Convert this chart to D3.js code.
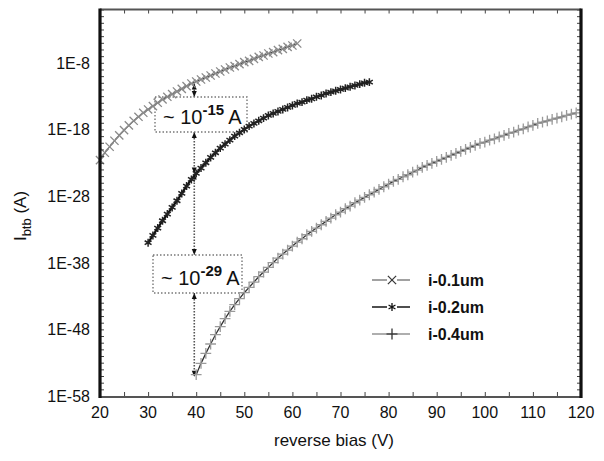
<!DOCTYPE html>
<html>
<head>
<meta charset="utf-8">
<script src="https://cdn.jsdelivr.net/npm/d3@7"></script>
<style>
  html, body { margin: 0; padding: 0; background: #fff; }
  svg { display: block; font-family: "Liberation Sans", Arial, sans-serif; }
</style>
</head>
<body>
<svg id="chart" width="604" height="461"></svg>
<script>
// Band-to-band tunnelling current vs reverse bias, three intrinsic-layer widths.
// Currents are stored as base-10 exponents (I = 10^e amperes).

const bias01 = d3.range(20, 62);   // 20..61 V
const exp01 = [-22.6, -21.5, -20.6, -19.7, -18.9, -18.1, -17.4, -16.7, -16.1, -15.5,
               -15.0, -14.5, -14.0, -13.5, -13.1, -12.7, -12.3, -11.9, -11.5, -11.1,
               -10.8, -10.5, -10.2, -9.9, -9.6, -9.3, -9.0, -8.7, -8.5, -8.2,
               -7.9, -7.7, -7.4, -7.1, -6.9, -6.6, -6.4, -6.1, -5.9, -5.6,
               -5.4, -5.1];

const bias02 = d3.range(30, 77);   // 30..76 V
const exp02 = [-35.0, -33.9, -32.8, -31.7, -30.7, -29.7, -28.7, -27.6, -26.5, -25.5,
               -24.6, -23.8, -23.0, -22.2, -21.5, -20.8, -20.2, -19.6, -19.0, -18.5,
               -18.0, -17.5, -17.1, -16.7, -16.3, -15.9, -15.6, -15.3, -15.0, -14.7,
               -14.4, -14.1, -13.9, -13.6, -13.4, -13.1, -12.9, -12.6, -12.4, -12.2,
               -12.0, -11.8, -11.6, -11.4, -11.2, -11.0, -10.9];

const bias04 = d3.range(40, 120);  // 40..119 V
const exp04 = [-54.8, -53.1, -51.6, -50.2, -48.8, -47.6, -46.4, -45.3, -44.3, -43.4,
               -42.5, -41.7, -40.9, -40.1, -39.4, -38.7, -38.0, -37.3, -36.7, -36.1,
               -35.5, -34.9, -34.4, -33.8, -33.3, -32.8, -32.3, -31.8, -31.3, -30.8,
               -30.4, -29.9, -29.5, -29.0, -28.6, -28.2, -27.8, -27.4, -27.0, -26.6,
               -26.2, -25.8, -25.5, -25.1, -24.8, -24.4, -24.1, -23.7, -23.4, -23.1,
               -22.8, -22.5, -22.2, -21.9, -21.6, -21.3, -21.0, -20.7, -20.4, -20.1,
               -19.9, -19.6, -19.4, -19.1, -18.9, -18.6, -18.4, -18.1, -17.9, -17.6,
               -17.4, -17.1, -16.9, -16.7, -16.5, -16.3, -16.1, -15.9, -15.7, -15.5];

const seriesNames = ["i-0.1um", "i-0.2um", "i-0.4um"];

const xTicks = [20, 30, 40, 50, 60, 70, 80, 90, 100, 110, 120];
const yTickExps = [-8, -18, -28, -38, -48, -58];
const yTickLabels = ["1E-8", "1E-18", "1E-28", "1E-38", "1E-48", "1E-58"];

// Annotated gaps at 40 V
const gapBias = 39.6;
const gapLabels = [{ base: "~ 10", sup: "-15", unit: "A" }, { base: "~ 10", sup: "-29", unit: "A" }];

const xTitle = "reverse bias (V)";

// ---- layout ----
const svg = d3.select("#chart");
const L = 100, R = 581, T = 9.5, B = 396;

const x = d3.scaleLinear().domain([20, 120]).range([L, R]);
const y = d3.scaleLog().domain([1e-58, 1]).range([B, T]);

const toPts = (bias, exps) => bias.map((v, i) => ({ v, i: Math.pow(10, exps[i]) }));
const series = [
  { name: seriesNames[0], pts: toPts(bias01, exp01), sym: d3.symbolTimes,    line: "#3a3a3a", mark: "#8a8a8a", lw: 1.1, ms: 46, mw: 1.3 },
  { name: seriesNames[1], pts: toPts(bias02, exp02), sym: d3.symbolAsterisk, line: "#111",    mark: "#222",    lw: 2.2, ms: 44, mw: 1.5 },
  { name: seriesNames[2], pts: toPts(bias04, exp04), sym: d3.symbolPlus,     line: "#333",    mark: "#9a9a9a", lw: 1.3, ms: 40, mw: 1.3 }
];

const line = d3.line().x(d => x(d.v)).y(d => y(d.i));

// ---- annotation: dotted guide at 40 V with boxed labels ----
const ann = svg.append("g");
const gx = x(gapBias);
const yAt = (bias, exps) => y(Math.pow(10, exps[bias.indexOf(40)]));
const y01 = yAt(bias01, exp01) + 2, y02 = yAt(bias02, exp02), y04 = yAt(bias04, exp04) + 2;
const boxes = [
  { x0: 155, x1: 247, y0: 97,  y1: 132 },
  { x0: 153, x1: 242, y0: 255, y1: 293 }
];
const guideSegs = [[y01, boxes[0].y0], [boxes[0].y1, y02], [y02, boxes[1].y0], [boxes[1].y1, y04]];
guideSegs.forEach(([a, b]) => {
  ann.append("line").attr("x1", gx).attr("x2", gx).attr("y1", a).attr("y2", b)
    .attr("stroke", "#555").attr("stroke-width", 1.6).attr("stroke-dasharray", "1.5,1.5");
});
// arrow heads at the ends of each guide
guideSegs.forEach(([a, b]) => {
  [[a, 1], [b, -1]].forEach(([yy, dir]) => {
    ann.append("path")
      .attr("d", `M${gx},${yy} L${gx - 2.5},${yy + dir * 6} L${gx + 2.5},${yy + dir * 6} Z`)
      .attr("fill", "#111");
  });
});
boxes.forEach((bx, k) => {
  ann.append("rect").attr("x", bx.x0).attr("y", bx.y0)
    .attr("width", bx.x1 - bx.x0).attr("height", bx.y1 - bx.y0)
    .attr("fill", "#fff").attr("stroke", "#777").attr("stroke-width", 1.4)
    .attr("stroke-dasharray", "1.5,2");
  const t = ann.append("text").attr("x", bx.x0 + 8).attr("y", bx.y1 - 8)
    .attr("font-size", 20).attr("fill", "#111");
  t.append("tspan").text(gapLabels[k].base);
  t.append("tspan").attr("dy", -9).attr("font-size", 15).attr("font-weight", "bold").text(gapLabels[k].sup);
  t.append("tspan").attr("dy", 9).attr("dx", 4).text(gapLabels[k].unit);
});

// ---- curves ----
series.forEach(s => {
  const g = svg.append("g");
  g.append("path").datum(s.pts).attr("d", line)
    .attr("fill", "none").attr("stroke", s.line).attr("stroke-width", s.lw);
  g.selectAll("path.m").data(s.pts).join("path").attr("class", "m")
    .attr("transform", d => `translate(${x(d.v)},${y(d.i)})`)
    .attr("d", d3.symbol().type(s.sym).size(s.ms))
    .attr("fill", "none").attr("stroke", s.mark).attr("stroke-width", s.mw);
});

// ---- frame and ticks ----
const axX = svg.append("g").attr("transform", `translate(0,${B})`)
  .call(d3.axisBottom(x).tickValues(d3.range(20, 121, 5)).tickSize(-4).tickFormat(""));
const axXt = svg.append("g").attr("transform", `translate(0,${T})`)
  .call(d3.axisTop(x).tickValues(d3.range(20, 121, 5)).tickSize(-4).tickFormat(""));
const decades = d3.range(-58, 1).map(e => Math.pow(10, e));
const axY = svg.append("g").attr("transform", `translate(${L},0)`)
  .call(d3.axisLeft(y).tickValues(decades).tickSize(-4).tickFormat(""));
const axYr = svg.append("g").attr("transform", `translate(${R},0)`)
  .call(d3.axisRight(y).tickValues(decades).tickSize(-4).tickFormat(""));
[axX, axXt, axY, axYr].forEach(a => {
  a.select(".domain").remove();
  a.selectAll(".tick line").attr("stroke", "#444").attr("stroke-width", 1);
});
svg.append("line").attr("x1", L).attr("x2", R).attr("y1", T).attr("y2", T).attr("stroke", "#555").attr("stroke-width", 2);
svg.append("line").attr("x1", L).attr("x2", R).attr("y1", B + 1).attr("y2", B + 1).attr("stroke", "#555").attr("stroke-width", 2);
svg.append("line").attr("x1", L).attr("x2", L).attr("y1", T - 1).attr("y2", B + 2).attr("stroke", "#111").attr("stroke-width", 3.2);
svg.append("line").attr("x1", R).attr("x2", R).attr("y1", T - 1).attr("y2", B + 2).attr("stroke", "#111").attr("stroke-width", 3.2);

// ---- tick labels ----
svg.append("g").selectAll("text").data(xTicks).join("text")
  .attr("x", d => x(d)).attr("y", B + 22)
  .attr("text-anchor", "middle").attr("font-size", 16).attr("fill", "#111")
  .text(d => d);
svg.append("g").selectAll("text").data(yTickExps).join("text")
  .attr("x", L - 10).attr("y", d => y(Math.pow(10, d)) + 6)
  .attr("text-anchor", "end").attr("font-size", 16).attr("fill", "#111")
  .text((d, i) => yTickLabels[i]);

// ---- axis titles ----
svg.append("text").attr("x", 334).attr("y", 446).attr("text-anchor", "middle")
  .attr("font-size", 17).attr("fill", "#111").text(xTitle);
const yt = svg.append("text").attr("transform", "translate(26,216) rotate(-90)")
  .attr("text-anchor", "middle").attr("font-size", 17).attr("fill", "#111");
yt.append("tspan").text("I");
yt.append("tspan").attr("dy", 5).attr("font-size", 13).text("btb");
yt.append("tspan").attr("dy", -5).text(" (A)");

// ---- legend ----
const leg = svg.append("g");
const legY = [280, 307, 334];
series.forEach((s, k) => {
  const yy = legY[k];
  leg.append("line").attr("x1", 372).attr("x2", 387).attr("y1", yy).attr("y2", yy)
    .attr("stroke", s.mark).attr("stroke-width", 1.6);
  leg.append("line").attr("x1", 397).attr("x2", 410).attr("y1", yy).attr("y2", yy)
    .attr("stroke", s.mark).attr("stroke-width", 1.6);
  leg.append("path").attr("transform", `translate(392,${yy})`)
    .attr("d", d3.symbol().type(s.sym).size(s.ms))
    .attr("fill", "none").attr("stroke", s.line).attr("stroke-width", 1.3);
  leg.append("text").attr("x", 428).attr("y", yy + 6).attr("font-size", 16)
    .attr("font-weight", "bold").attr("fill", "#111").text(s.name);
});
</script>
</body>
</html>
